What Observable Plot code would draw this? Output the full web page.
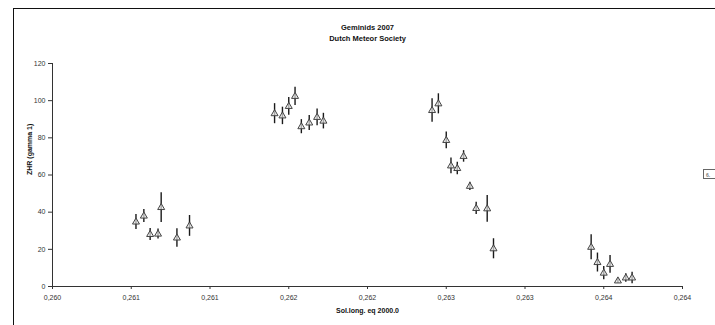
<!DOCTYPE html>
<html><head><meta charset="utf-8">
<script src="https://cdn.jsdelivr.net/npm/d3@7"></script>
<script src="https://cdn.jsdelivr.net/npm/@observablehq/plot@0.6"></script>
<style>
body{margin:0;background:#fff;}
#wrap{position:relative;width:715px;height:325px;overflow:hidden;background:#fff;}
#frame{position:absolute;left:13px;top:8px;width:800px;height:400px;border-left:1.5px solid #111;border-top:1.5px solid #111;}
#chart{position:absolute;left:0;top:0;}
#legend{position:absolute;left:703px;top:169px;width:20px;height:10px;border:1px solid #666;font:bold 5px "Liberation Sans",Arial,sans-serif;color:#777;line-height:10px;padding-left:2px;box-sizing:border-box;}
</style>
</head><body>
<div id="wrap"><div id="frame"></div><div id="chart"></div><div id="legend">6.</div></div>
<script>
const title = "Geminids 2007";
const subtitle = "Dutch Meteor Society";
const xLabel = "Sol.long. eq 2000.0";
const yLabel = "ZHR (gamma 1)";

const solLong = [
  0.26053, 0.26058, 0.26062, 0.26067, 0.26069, 0.26079, 0.26087,
  0.26141, 0.26146, 0.26150, 0.26154, 0.26158, 0.26163, 0.26168, 0.26172,
  0.26241, 0.26245, 0.26250, 0.26253, 0.26257, 0.26261, 0.26265, 0.26269, 0.26276, 0.26280,
  0.26342, 0.26346, 0.26350, 0.26354, 0.26359, 0.26364, 0.26368
];
const zhr = [
  34.7, 37.9, 28.0, 28.2, 42.5, 26.1, 32.6,
  93.0, 91.8, 96.9, 102.3, 86.0, 88.0, 91.0, 89.0,
  94.7, 98.3, 78.6, 64.9, 63.5, 70.0, 53.9, 42.0, 41.8, 20.3,
  21.1, 12.9, 7.2, 11.9, 3.0, 4.6, 4.6
];
const zhrErr = [
  4.0, 3.5, 3.2, 2.7, 8.0, 5.0, 5.6,
  5.4, 4.7, 4.8, 4.9, 3.8, 4.0, 4.5, 4.2,
  6.3, 5.4, 4.5, 4.2, 3.3, 3.1, 2.2, 3.3, 7.2, 5.4,
  6.7, 5.1, 3.6, 4.8, 1.2, 2.3, 3.1
];
const xTicks = [0.2600, 0.2605, 0.2610, 0.2615, 0.2620, 0.2625, 0.2630, 0.2635, 0.2640];
const xTickLabels = ["0,260", "0,261", "0,261", "0,262", "0,262", "0,263", "0,263", "0,264", "0,264"];
const yTicks = [0, 20, 40, 60, 80, 100, 120];

const data = solLong.map((x, i) => ({x, y: zhr[i], lo: zhr[i] - zhrErr[i], hi: zhr[i] + zhrErr[i]}));
const fmtX = d => xTickLabels[xTicks.findIndex(t => Math.abs(t - d) < 1e-9)];

const font = "Liberation Sans, Arial, sans-serif";
const chart = Plot.plot({
  width: 715,
  height: 325,
  marginLeft: 52,
  marginRight: 33,
  marginTop: 63,
  marginBottom: 39,
  style: {fontFamily: font, fontSize: "7px", background: "transparent", color: "#222"},
  x: {domain: [0.2600, 0.2640], ticks: xTicks, tickFormat: fmtX},
  y: {domain: [0, 120], ticks: yTicks},
  marks: [
    Plot.axisY({ticks: yTicks, tickSize: 4, tickPadding: 3, label: null, stroke: "#333", fill: "#333"}),
    Plot.axisX({ticks: xTicks, tickSize: 3, tickPadding: 6, label: null, stroke: "#333", fill: "#333", tickFormat: fmtX}),
    Plot.ruleY([0], {stroke: "#333", strokeWidth: 1}),
    Plot.ruleX([0.2600], {stroke: "#333", strokeWidth: 1}),
    Plot.ruleX(data, {x: "x", y1: "lo", y2: "hi", stroke: "#1a1a1a", strokeWidth: 1.4}),
    Plot.dot(data, {x: "x", y: "y", symbol: "triangle", r: 2.6, fill: "#e4e4e4", fillOpacity: 0.7, stroke: "#444", strokeWidth: 1}),
    Plot.text([title], {frameAnchor: "top", dy: -39, fontWeight: "bold", fontSize: 7.5, fill: "#111"}),
    Plot.text([subtitle], {frameAnchor: "top", dy: -28, fontWeight: "bold", fontSize: 7.5, fill: "#111"}),
    Plot.text([xLabel], {frameAnchor: "bottom", dy: 26, fontWeight: "bold", fontSize: 7, fill: "#111"}),
    Plot.text([yLabel], {frameAnchor: "left", dx: -23, rotate: -90, fontWeight: "bold", fontSize: 7, fill: "#111"})
  ]
});
document.getElementById("chart").appendChild(chart);
</script>
</body></html>
